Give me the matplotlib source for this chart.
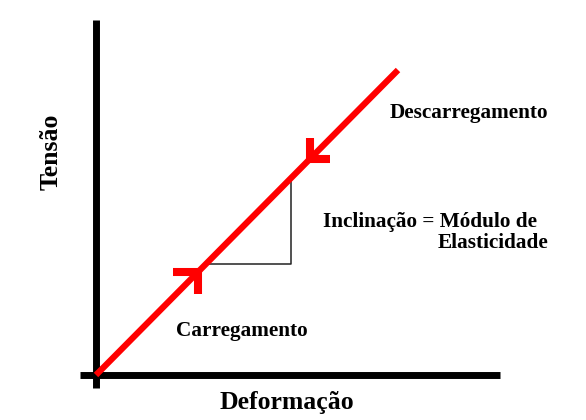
import matplotlib
matplotlib.use("Agg")
import matplotlib.pyplot as plt

# curva tensao-deformacao (regime elastico)
deformacao = [0.0, 3.02]
tensao = [0.0, 3.05]

# posicoes das setas (carregamento / descarregamento) sobre a reta
seta_carga = (1.02, 1.03)
seta_descarga = (2.14, 2.16)

# triangulo da inclinacao
tri_x = [1.10, 1.95, 1.95]
tri_y = [1.11, 1.11, 1.97]

plt.rcParams['font.family'] = ['Liberation Serif', 'DejaVu Serif']

fig = plt.figure(figsize=(5.86, 4.2), dpi=100)
ax = fig.add_axes([0, 0, 1, 1])
ax.set_xlim(-0.96, 4.90)
ax.set_ylim(-0.45, 3.75)
ax.axis('off')

# eixos
ax.plot([0, 0], [-0.13, 3.55], color='black', lw=5, solid_capstyle='butt')
ax.plot([-0.16, 4.04], [0, 0], color='black', lw=5, solid_capstyle='butt')

# triangulo
ax.plot(tri_x, tri_y, color='#222222', lw=1.1)

# reta vermelha
ax.plot(deformacao, tensao, color='#ff0000', lw=4.5, solid_capstyle='butt', zorder=3)

# setas
cx, cy = seta_carga
ax.plot([cx - 0.25, cx + 0.04], [cy, cy], color='#ff0000', lw=5.8, solid_capstyle='butt', zorder=4)
ax.plot([cx, cx], [cy + 0.04, cy - 0.22], color='#ff0000', lw=5.8, solid_capstyle='butt', zorder=4)
dx, dy = seta_descarga
ax.plot([dx - 0.03, dx + 0.2], [dy, dy], color='#ff0000', lw=5.8, solid_capstyle='butt', zorder=4)
ax.plot([dx, dx], [dy - 0.03, dy + 0.21], color='#ff0000', lw=5.8, solid_capstyle='butt', zorder=4)

# textos
ax.text(3.73, 2.62, 'Descarregamento', fontsize=15.3, fontweight='bold', ha='center', va='center')
ax.text(1.46, 0.44, 'Carregamento', fontsize=15.3, fontweight='bold', ha='center', va='center')
ax.text(2.27, 1.53, 'Inclinação = Módulo de', fontsize=15.3, fontweight='bold', ha='left', va='center')
ax.text(3.42, 1.32, 'Elasticidade', fontsize=15.3, fontweight='bold', ha='left', va='center')
ax.text(1.91, -0.27, 'Deformação', fontsize=18.5, fontweight='bold', ha='center', va='center')
ax.text(-0.45, 2.23, 'Tensão', fontsize=18.5, fontweight='bold', ha='center', va='center', rotation=90)

fig.savefig('out.png', dpi=100)
